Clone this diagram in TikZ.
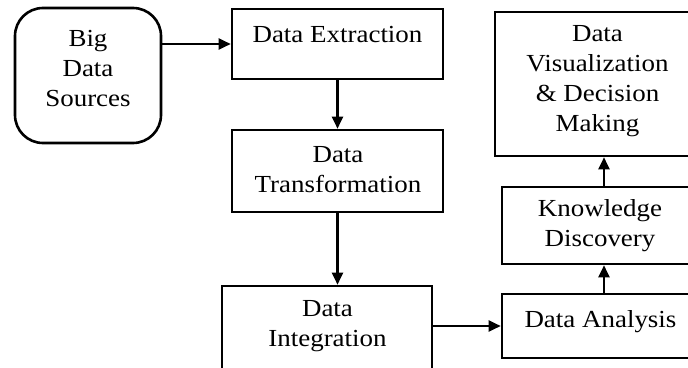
\documentclass[tikz,border=0pt]{standalone}
\usepackage{fontspec}
\setmainfont{Liberation Serif}[FakeStretch=1.1]
\usetikzlibrary{arrows.meta}
\tikzset{
  box/.style={draw=black, line width=2.6pt, rectangle, inner sep=0pt, fill=white},
  rbox/.style={box, rounded corners=28pt},
  lbl/.style={align=center, inner sep=0pt, font=\fontsize{24.5pt}{30pt}\selectfont},
  conn/.style={line width=2.1pt, -{Triangle[length=12pt,width=11pt]}}
}
\begin{document}
\begin{tikzpicture}[x=1pt,y=-1pt]
\useasboundingbox (0,0) rectangle (688,367);
\clip (0,0) rectangle (688,367);
\fill[white] (0,0) rectangle (688,367);
% boxes
\node[rbox, minimum width=146pt, minimum height=135pt] (src) at (88,75.5) {};
\node[box, minimum width=211pt, minimum height=70pt] (ext) at (337.5,44) {};
\node[box, minimum width=211pt, minimum height=82pt] (trans) at (337.5,171) {};
\node[box, minimum width=210pt, minimum height=90pt] (integ) at (327,331) {};
\node[box, minimum width=204pt, minimum height=64pt] (anal) at (604,326) {};
\node[box, minimum width=204pt, minimum height=77pt] (know) at (604,225.5) {};
\node[box, minimum width=218pt, minimum height=144pt] (vis) at (604,84) {};
% labels
\node[lbl] (tsrc) at (88,68.5) {Big\\Data\\Sources};
\node[lbl] (text) at (337.5,34.7) {Data Extraction};
\node[lbl] (ttrans) at (338,169.7) {Data\\Transformation};
\node[lbl] (tinteg) at (327.5,326.3) {Data\\Integration};
\node[lbl] (tanal) at (600.5,321.3) {Data Analysis};
\node[lbl] (tknow) at (600,225.8) {Knowledge\\Discovery};
\node[lbl] (tvis) at (597.5,80.8) {Data\\Visualization\\\& Decision\\Making};
% connectors
\draw[conn] (src.east |- ext.west) -- (ext.west);
\draw[conn] (ext.south) -- (trans.north);
\draw[conn] (trans.south) -- (trans.south |- integ.north);
\draw[conn] (integ.east |- anal.west) -- (anal.west);
\draw[conn] (anal.north) -- (know.south);
\draw[conn] (know.north) -- (vis.south);
\end{tikzpicture}
\end{document}
